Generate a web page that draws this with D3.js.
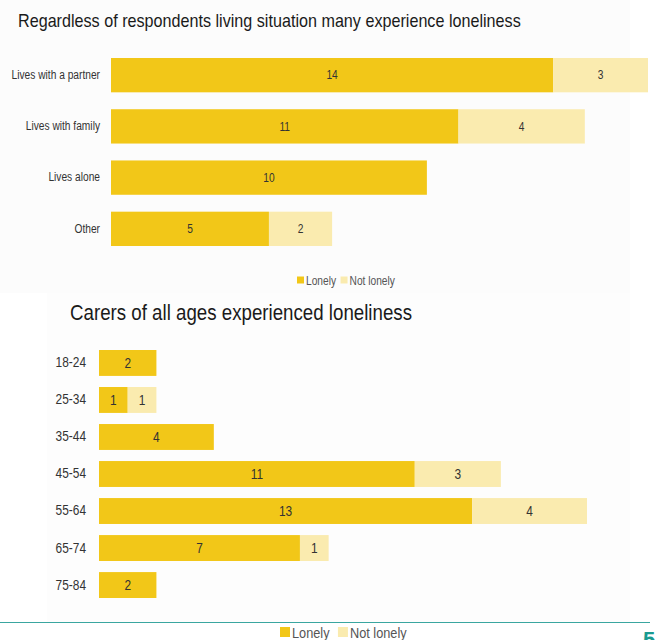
<!DOCTYPE html>
<html><head><meta charset="utf-8">
<script src="https://cdn.jsdelivr.net/npm/d3@7"></script>
<style>
html,body{margin:0;padding:0;background:#fff;}
svg{display:block;}
text{font-family:"Liberation Sans",Arial,sans-serif;}
</style></head>
<body>
<svg id="c" width="658" height="640"></svg>
<script>
// Chart 1: living situation
const livingCategories = ["Lives with a partner","Lives with family","Lives alone","Other"];
const livingLonely = [14, 11, 10, 5];
const livingNotLonely = [3, 4, 0, 2];
// Chart 2: age groups
const ageCategories = ["18-24","25-34","35-44","45-54","55-64","65-74","75-84"];
const ageLonely = [2, 1, 4, 11, 13, 7, 2];
const ageNotLonely = [0, 1, 0, 3, 4, 1, 0];
const seriesNames = ["Lonely","Not lonely"];
const title1 = "Regardless of respondents living situation many experience loneliness";
const title2 = "Carers of all ages experienced loneliness";
const pageNumber = "5";

const colors = {"Lonely":"#F2C718","Not lonely":"#FAEBAF"};
const SQ = 0.85; // horizontal text compression (narrow typeface look)
const svg = d3.select("#c");

function squeeze(sel){
  sel.each(function(){
    const L = this.getComputedTextLength();
    d3.select(this).attr("textLength", L*SQ).attr("lengthAdjust","spacingAndGlyphs");
  });
  return sel;
}

// faint slide panels
svg.append("rect").attr("x",0).attr("y",0).attr("width",630).attr("height",293).attr("fill","#fcfcfc");
svg.append("rect").attr("x",47).attr("y",293).attr("width",583).attr("height",329).attr("fill","#fdfdfd");

function drawChart(opts){
  const data = opts.cats.map((c,i)=>({cat:c,"Lonely":opts.lonely[i],"Not lonely":opts.notLonely[i]}));
  const stack = d3.stack().keys(seriesNames)(data);
  const x = d3.scaleLinear().domain([0,17]).range(opts.xr);
  const y = d3.scaleBand().domain(opts.cats).range(opts.yr).paddingInner(opts.pad).paddingOuter(0);
  const g = svg.append("g");
  stack.forEach(s=>{
    const sg = g.append("g");
    s.forEach(d=>{
      const w = x(d[1])-x(d[0]);
      if (w<=0) return;
      sg.append("rect").attr("x",x(d[0])).attr("y",y(d.data.cat))
        .attr("width",w).attr("height",y.bandwidth()).attr("fill",colors[s.key]);
      squeeze(sg.append("text").attr("x",(x(d[0])+x(d[1]))/2).attr("y",y(d.data.cat)+y.bandwidth()/2)
        .attr("dy","0.35em").attr("text-anchor","middle").attr("font-size",opts.valFs)
        .attr("fill","#333").text(d[1]-d[0]));
    });
  });
  const axis = d3.axisLeft(y).tickSize(0).tickPadding(opts.labPad);
  const ag = g.append("g").attr("transform",`translate(${opts.xr[0]},0)`).call(axis);
  ag.select(".domain").remove();
  ag.selectAll("text").attr("font-size",opts.catFs).attr("fill","#333")
    .style("font-family",'"Liberation Sans",Arial,sans-serif');
  squeeze(ag.selectAll("text"));
  // title
  squeeze(svg.append("text").attr("x",opts.tx).attr("y",opts.ty).attr("font-size",opts.tFs).attr("fill","#1a1a1a").text(opts.title));
  // legend
  const lg = svg.append("g").attr("transform",`translate(${opts.lx},${opts.ly})`);
  let off = 0;
  seriesNames.forEach((n,i)=>{
    lg.append("rect").attr("x",off).attr("y",-opts.lsq/2-1).attr("width",opts.lsq).attr("height",opts.lsq).attr("fill",colors[n]);
    const t = lg.append("text").attr("x",off+opts.lsq+2).attr("y",0).attr("dy","0.35em").attr("font-size",opts.lFs).attr("fill","#555").text(n);
    squeeze(t);
    off += opts.lsq + 2 + t.node().getComputedTextLength()*SQ + opts.lgap;
  });
}

drawChart({cats:livingCategories,lonely:livingLonely,notLonely:livingNotLonely,
  xr:[111,648],yr:[58,246],pad:0.33,valFs:12,catFs:12,labPad:11,
  title:title1,tx:18,ty:27,tFs:19,lx:297,ly:281,lsq:7,lFs:12,lgap:9});
drawChart({cats:ageCategories,lonely:ageLonely,notLonely:ageNotLonely,
  xr:[99,587],yr:[350,598],pad:0.30,valFs:14,catFs:14,labPad:13,
  title:title2,tx:70,ty:320,tFs:22,lx:280,ly:633,lsq:10,lFs:15,lgap:14});

// footer line and page number
svg.append("line").attr("x1",0).attr("x2",650).attr("y1",622.5).attr("y2",622.5).attr("stroke","#3aa6a0").attr("stroke-width",1.2);
svg.append("text").attr("x",643).attr("y",647).attr("font-size",22).attr("fill","#1a9a90").attr("font-weight","bold").text(pageNumber);
</script>
</body></html>
